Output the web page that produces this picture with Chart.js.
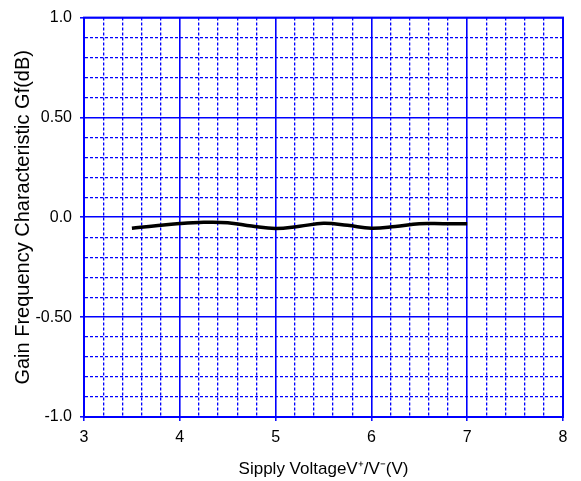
<!DOCTYPE html>
<html>
<head>
<meta charset="utf-8">
<script src="https://cdn.jsdelivr.net/npm/chart.js@4/dist/chart.umd.min.js"></script>
<style>
  html, body { margin: 0; padding: 0; background: #ffffff; }
  canvas { display: block; }
</style>
</head>
<body>
<canvas id="c" width="581" height="481"></canvas>
<script>
// ---- data ----
const voltage = [3.5, 3.75, 4.0, 4.25, 4.5, 4.75, 5.0, 5.25, 5.5, 5.75, 6.0, 6.25, 6.5, 6.75, 7.0];
const gain    = [-0.055, -0.042, -0.031, -0.025, -0.027, -0.044, -0.056, -0.045, -0.030, -0.040, -0.055, -0.046, -0.032, -0.032, -0.032];
const xTickValues = [3, 4, 5, 6, 7, 8];
const xTickLabels = ['3', '4', '5', '6', '7', '8'];
const yTickValues = [-1, -0.5, 0, 0.5, 1];
const yTickLabels = ['-1.0', '-0.50', '0.0', '0.50', '1.0'];
const xTitle = 'Sipply VoltageV\u207A/V\u207B(V)';
const yTitle = 'Gain Frequency Characteristic Gf(dB)';

const BLUE = 'rgb(0,0,255)';
const NONE = 'rgba(0,0,255,0)';
function labelFor(v, values, labels) {
  for (let i = 0; i < values.length; i++) {
    if (Math.abs(v - values[i]) < 1e-6) return labels[i];
  }
  return '';
}
function isMajorX(v) { return Math.abs(v - Math.round(v)) < 1e-6; }
function isMajorY(v) { return Math.abs(v * 2 - Math.round(v * 2)) < 1e-6; }

const PLOT_LEFT = 84, PLOT_RIGHT = 563, PLOT_TOP = 12, PLOT_BOTTOM = 417;
const W = 581, H = 481;
const FONT = 'Liberation Sans, Arial, Helvetica, sans-serif';

function gridOpts(isMajor) {
  return {
    display: true,
    drawOnChartArea: true,
    drawTicks: true,
    color: BLUE,
    lineWidth: (c) => (c.tick && isMajor(c.tick.value)) ? 1.6 : 1.3,
    tickLength: 4,
    tickWidth: 1.5,
    tickColor: (c) => (c.tick && isMajor(c.tick.value)) ? BLUE : NONE
  };
}
function borderOpts(isMajor) {
  return {
    display: true,
    color: BLUE,
    width: 2,
    dash: (c) => (c.tick && !isMajor(c.tick.value)) ? [3, 2] : []
  };
}

new Chart(document.getElementById('c'), {
  type: 'line',
  data: {
    datasets: [{
      data: voltage.map((v, i) => ({ x: v, y: gain[i] })),
      borderColor: '#000000',
      borderWidth: 3.5,
      pointRadius: 0,
      tension: 0.4,
      fill: false
    }]
  },
  options: {
    responsive: false,
    animation: false,
    layout: { padding: { left: 0, right: W - PLOT_RIGHT, top: PLOT_TOP, bottom: 0 } },
    plugins: { legend: { display: false }, tooltip: { enabled: false } },
    scales: {
      x: {
        type: 'linear',
        min: 3, max: 8,
        afterFit: (s) => { s.height = H - PLOT_BOTTOM; },
        ticks: {
          stepSize: 0.2,
          autoSkip: false,
          maxRotation: 0,
          padding: 7,
          color: '#000000',
          font: { family: FONT, size: 16 },
          callback: (v) => labelFor(v, xTickValues, xTickLabels)
        },
        grid: gridOpts(isMajorX),
        border: borderOpts(isMajorX),
        title: {
          display: true,
          text: xTitle,
          color: '#000000',
          font: { family: FONT, size: 17 },
          padding: { top: 0, bottom: 1 }
        }
      },
      y: {
        type: 'linear',
        min: -1, max: 1,
        afterFit: (s) => { s.width = PLOT_LEFT; },
        ticks: {
          stepSize: 0.1,
          autoSkip: false,
          padding: 8,
          color: '#000000',
          font: { family: FONT, size: 16 },
          callback: (v) => labelFor(v, yTickValues, yTickLabels)
        },
        grid: gridOpts(isMajorY),
        border: borderOpts(isMajorY),
        title: {
          display: true,
          text: yTitle,
          color: '#000000',
          font: { family: FONT, size: 20 },
          padding: { top: 11, bottom: 0 }
        }
      }
    }
  },
  plugins: [{
    id: 'frame',
    afterDraw(chart) {
      const a = chart.chartArea, ctx = chart.ctx;
      ctx.save();
      ctx.strokeStyle = BLUE;
      ctx.lineWidth = 2;
      ctx.strokeRect(a.left, a.top, a.right - a.left, a.bottom - a.top);
      ctx.restore();
    }
  }]
});
</script>
</body>
</html>
